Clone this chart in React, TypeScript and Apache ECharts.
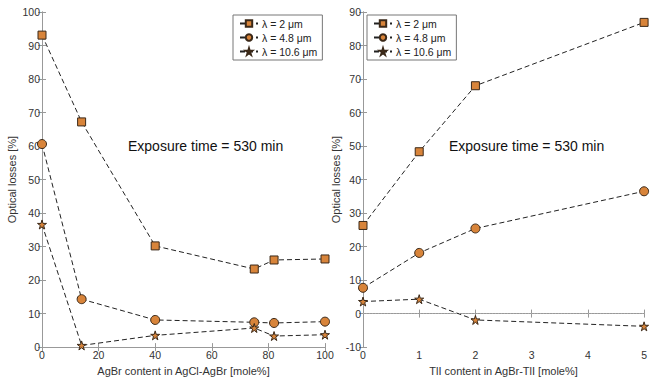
import React, { useEffect, useRef } from "react";
import * as echarts from "echarts";

// Left panel: AgCl-AgBr
const agbrContent = [0, 14, 40, 75, 82, 100];
const left2um = [93.1, 67.2, 30.2, 23.3, 26.0, 26.3];
const left48um = [60.6, 14.3, 8.1, 7.4, 7.2, 7.6];
const left106um = [36.6, 0.5, 3.5, 5.7, 3.3, 3.7];

// Right panel: AgBr-TlI
const tliContent = [0, 1, 2, 5];
const right2um = [26.3, 48.3, 68.0, 86.9];
const right48um = [7.7, 18.1, 25.4, 36.5];
const right106um = [3.6, 4.3, -1.9, -3.8];

const seriesNames = ["λ = 2 μm", "λ = 4.8 μm", "λ = 10.6 μm"];
const leftXTitle = "AgBr content in AgCl-AgBr [mole%]";
const rightXTitle = "TlI content in AgBr-TlI [mole%]";
const yTitle = "Optical losses [%]";
const annotation = "Exposure time = 530 min";

const STAR =
  "path://M50,0 L61,35 L98,35 L68,57 L79,91 L50,70 L21,91 L32,57 L2,35 L39,35 Z";

export default function App() {
  const ref = useRef<HTMLDivElement>(null);
  useEffect(() => {
    if (!ref.current) return;
    const chart = echarts.init(ref.current, null, { renderer: "svg" });
    const font = "'Liberation Sans', Arial, Helvetica, sans-serif";
    const axisGray = "#999";
    const labelColor = "#333";
    const fill = "#D8843A";
    const edge = "#3a2818";

    const mainX = (gi: number, min: number, max: number, interval: number, name: string) => ({
      type: "value",
      gridIndex: gi,
      min,
      max,
      interval,
      name,
      nameLocation: "middle",
      nameGap: 15,
      nameTextStyle: { fontSize: 11, color: labelColor, fontFamily: font },
      axisLine: { show: true, lineStyle: { color: axisGray } },
      axisTick: { show: true, inside: true, length: 4, lineStyle: { color: axisGray } },
      axisLabel: { fontSize: 10.5, color: labelColor, margin: 2, fontFamily: font },
      splitLine: { show: false },
    });
    const topX = (gi: number, min: number, max: number, interval: number) => ({
      type: "value",
      gridIndex: gi,
      position: "top",
      min,
      max,
      interval,
      axisLine: { show: true, lineStyle: { color: axisGray } },
      axisTick: { show: true, inside: true, length: 4, lineStyle: { color: axisGray } },
      axisLabel: { show: false },
      splitLine: { show: false },
    });
    const mainY = (gi: number, min: number, max: number, gap: number) => ({
      type: "value",
      gridIndex: gi,
      min,
      max,
      interval: 10,
      name: yTitle,
      nameLocation: "middle",
      nameRotate: 90,
      nameGap: gap,
      nameTextStyle: { fontSize: 11, color: labelColor, fontFamily: font },
      axisLine: { show: true, lineStyle: { color: axisGray } },
      axisTick: { show: true, inside: true, length: 4, lineStyle: { color: axisGray } },
      axisLabel: { fontSize: 10.5, color: labelColor, margin: 2, fontFamily: font },
      splitLine: { show: false },
    });
    const rightY = (gi: number, min: number, max: number) => ({
      type: "value",
      gridIndex: gi,
      position: "right",
      min,
      max,
      interval: 10,
      axisLine: { show: true, lineStyle: { color: axisGray } },
      axisTick: { show: true, inside: true, length: 4, lineStyle: { color: axisGray } },
      axisLabel: { show: false },
      splitLine: { show: false },
    });

    const mk = (
      name: string,
      xs: number[],
      ys: number[],
      xi: number,
      yi: number,
      symbol: string,
      size: number,
      extra: any = {}
    ) => ({
      type: "line",
      name,
      xAxisIndex: xi,
      yAxisIndex: yi,
      data: xs.map((x, i) => [x, ys[i]]),
      symbol,
      symbolSize: size,
      showAllSymbol: true,
      lineStyle: { color: "#222", width: 1, type: [5, 3] },
      itemStyle: { color: fill, borderColor: edge, borderWidth: 1 },
      z: 3,
      ...extra,
    });

    const legendBase = {
      orient: "vertical",
      itemWidth: 18,
      itemHeight: 8,
      itemGap: 3,
      padding: [3, 5, 3, 6],
      backgroundColor: "#fff",
      borderColor: "#777",
      borderWidth: 1,
      borderRadius: 0,
      textStyle: {
        fontSize: 10.5,
        lineHeight: 11,
        color: "#222",
        fontFamily: font,
        padding: [0, 0, 0, -1],
      },
      data: seriesNames,
    };

    chart.setOption({
      animation: false,
      textStyle: { fontFamily: font },
      grid: [
        { left: 42, top: 12, width: 283, height: 338 },
        { left: 363, top: 12, width: 283, height: 338 },
      ],
      xAxis: [
        mainX(0, 0, 100, 20, leftXTitle),
        mainX(1, 0, 5, 1, rightXTitle),
        topX(0, 0, 100, 20),
        topX(1, 0, 5, 1),
      ],
      yAxis: [mainY(0, 0, 100, 25), mainY(1, -10, 90, 22), rightY(0, 0, 100), rightY(1, -10, 90)],
      legend: [
        { ...legendBase, left: 233, top: 15 },
        { ...legendBase, left: 367, top: 15 },
      ],
      graphic: [
        {
          type: "text",
          left: 128,
          top: 139,
          style: { text: annotation, fontSize: 14, fill: "#111", fontFamily: font },
        },
        {
          type: "text",
          left: 449,
          top: 139,
          style: { text: annotation, fontSize: 14, fill: "#111", fontFamily: font },
        },
      ],
      series: [
        mk(seriesNames[0], agbrContent, left2um, 0, 0, "rect", 8),
        mk(seriesNames[1], agbrContent, left48um, 0, 0, "circle", 9),
        mk(seriesNames[2], agbrContent, left106um, 0, 0, STAR, 9),
        mk(seriesNames[0], tliContent, right2um, 1, 1, "rect", 8),
        mk(seriesNames[1], tliContent, right48um, 1, 1, "circle", 9),
        mk(seriesNames[2], tliContent, right106um, 1, 1, STAR, 9, {
          markLine: {
            silent: true,
            symbol: "none",
            label: { show: false },
            lineStyle: { color: "#aaa", type: [1, 2], width: 1 },
            data: [{ yAxis: 0 }],
          },
        }),
      ],
    });
    return () => chart.dispose();
  }, []);
  return (
    <div
      ref={ref}
      style={{ position: "fixed", left: 0, top: 0, width: 650, height: 381, background: "#fff" }}
    />
  );
}
